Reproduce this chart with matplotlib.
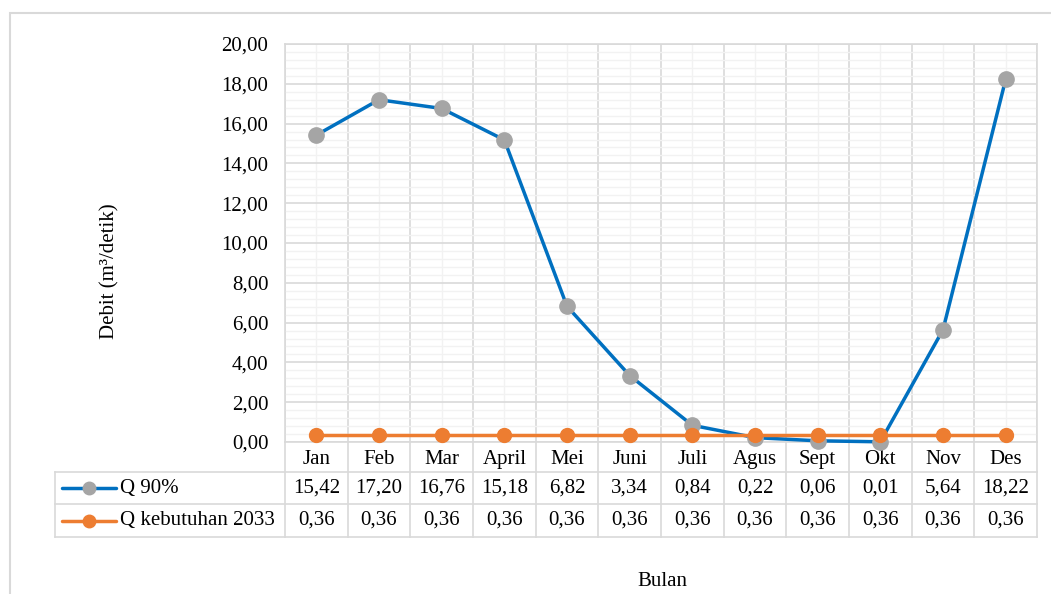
"""
Debit Q 90% vs Q kebutuhan 2033 per bulan, Excel-style line chart with data table.
"""
import matplotlib
matplotlib.use("Agg")
import matplotlib.pyplot as plt
from matplotlib import transforms
from matplotlib.lines import Line2D
from matplotlib.patches import Rectangle
from matplotlib.ticker import FuncFormatter, MultipleLocator

plt.rcParams["font.family"] = ["Liberation Serif", "DejaVu Serif"]

bulan = ["Jan", "Feb", "Mar", "April", "Mei", "Juni", "Juli", "Agus", "Sept", "Okt", "Nov", "Des"]
q90 = [15.42, 17.20, 16.76, 15.18, 6.82, 3.34, 0.84, 0.22, 0.06, 0.01, 5.64, 18.22]
q_butuh = [0.36] * 12
series_names = ["Q 90%", "Q kebutuhan 2033"]

W, H = 1051, 594
GRID = "#d9d9d9"
MINOR = "#f2f2f2"
FS = 15


def fx(px):
    return px / W


def fy(py):
    return 1 - py / H


def fmt(v):
    return f"{v:.2f}".replace(".", ",")


fig = plt.figure(figsize=(W / 100, H / 100), dpi=100)
ax = fig.add_axes([fx(285), fy(442), fx(1037) - fx(285), fy(44) - fy(442)])

x = list(range(len(bulan)))
ax.plot(x, q90, "-o", color="#0070c0", lw=2.5, ms=11,
        mfc="#a5a5a5", mec="#a5a5a5", zorder=4, clip_on=False)
ax.plot(x, q_butuh, "-o", color="#ed7d31", lw=2.5, ms=10,
        mfc="#ed7d31", mec="#ed7d31", zorder=5, clip_on=False)

ax.set_xlim(-0.5, len(bulan) - 0.5)
ax.set_ylim(0, 20)
ax.yaxis.set_major_locator(MultipleLocator(2))
ax.yaxis.set_minor_locator(MultipleLocator(0.4))
ax.set_xticks([i - 0.5 for i in range(len(bulan) + 1)])
ax.set_xticks(x, minor=True)
ax.set_xticklabels([])
ax.yaxis.set_major_formatter(FuncFormatter(lambda v, _: fmt(v)))
ax.tick_params(axis="both", which="both", length=0)
ax.tick_params(axis="y", labelsize=FS, pad=12)
ax.grid(True, which="major", color=GRID, lw=1.2, zorder=0)
ax.grid(True, which="minor", color=MINOR, lw=1.0, zorder=0)
ax.set_axisbelow(True)
for s in ax.spines.values():
    s.set_color(GRID)
    s.set_linewidth(1.2)

# data table under the plot: x in data units, y in figure units
tr = transforms.blended_transform_factory(ax.transData, fig.transFigure)
row_y = [fy(442), fy(472), fy(504), fy(537)]
for yy in row_y[1:]:
    fig.add_artist(Line2D([fx(55), fx(1037)], [yy, yy], color=GRID, lw=1.2))
fig.add_artist(Line2D([fx(55), fx(55)], [row_y[1], row_y[3]], color=GRID, lw=1.2))
for i in range(len(bulan) + 1):
    ax.add_line(Line2D([i - 0.5, i - 0.5], [row_y[0], row_y[3]], color=GRID, lw=1.2,
                       transform=tr, clip_on=False))

for i, b in enumerate(bulan):
    ax.text(i, (row_y[0] + row_y[1]) / 2 - 0.004, b, transform=tr, ha="center", va="center", fontsize=FS)
    ax.text(i, (row_y[1] + row_y[2]) / 2, fmt(q90[i]), transform=tr, ha="center", va="center", fontsize=FS)
    ax.text(i, (row_y[2] + row_y[3]) / 2, fmt(q_butuh[i]), transform=tr, ha="center", va="center", fontsize=FS)

# legend keys inside the table
keys = [("#0070c0", "#a5a5a5"), ("#ed7d31", "#ed7d31")]
for k, (name, (lc, mc)) in enumerate(zip(series_names, keys)):
    yc = (row_y[k + 1] + row_y[k + 2]) / 2
    fig.add_artist(Line2D([fx(62), fx(116)], [yc, yc], color=lc, lw=2.5, solid_capstyle="round"))
    fig.add_artist(Line2D([fx(89)], [yc], color=mc, marker="o", ms=9, lw=0))
    fig.text(fx(120), yc, name, ha="left", va="center", fontsize=FS)

# axis titles
fig.text(fx(110), fy(271), "Debit (m³/detik)", rotation=90, ha="center", va="center", fontsize=FS)
fig.text(fx(662), fy(582), "Bulan", ha="center", va="center", fontsize=FS)

# chart area border
fig.add_artist(Rectangle((fx(10), fy(620)), fx(1060) - fx(10), fy(13) - fy(620),
                         fill=False, edgecolor=GRID, lw=1.5, transform=fig.transFigure))

fig.savefig("out.png", dpi=100, facecolor="white")
